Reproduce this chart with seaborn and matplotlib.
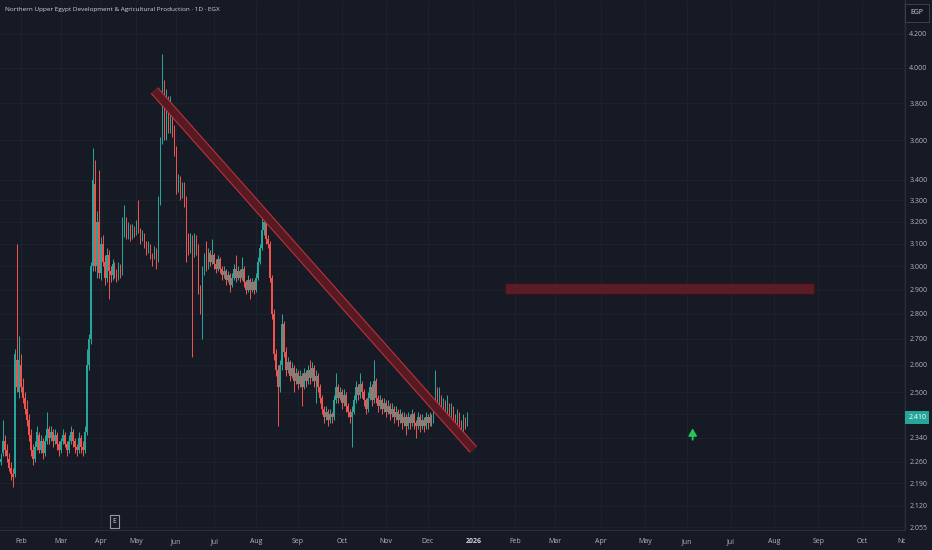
import matplotlib
matplotlib.use('Agg')
import matplotlib.pyplot as plt
import matplotlib.transforms as mtransforms
from matplotlib.patches import Rectangle
import numpy as np
import pandas as pd
import seaborn as sns

title = 'Northern Upper Egypt Development & Agricultural Production · 1D · EGX'
first_day = '2025-01-16'
future_end = '2026-11-30'
holidays = ['2025-03-30', '2025-03-31', '2025-04-01', '2025-04-02', '2025-04-03',
            '2025-04-21', '2025-05-01', '2025-06-05', '2025-06-08',
            '2025-06-09', '2025-07-03', '2025-07-24']

# daily candles
opens = [2.28, 2.26, 2.29, 2.33, 2.30, 2.27, 2.24, 2.22, 2.22, 2.62,
         2.50, 2.60, 2.52, 2.48, 2.44, 2.40, 2.35, 2.30, 2.27, 2.31,
         2.35, 2.30, 2.33, 2.29, 2.33, 2.37, 2.34, 2.36, 2.33, 2.35,
         2.32, 2.30, 2.33, 2.35, 2.32, 2.30, 2.33, 2.36, 2.33, 2.31,
         2.30, 2.34, 2.31, 2.30, 2.36, 2.60, 2.70, 3.00, 3.38, 3.00,
         3.20, 2.97, 3.10, 3.02, 2.95, 3.05, 2.98, 2.96, 3.01, 2.97,
         2.96, 3.00, 2.97, 3.15, 3.20, 3.14, 3.18, 3.13, 3.17, 3.15,
         3.19, 3.16, 3.12, 3.14, 3.10, 3.07, 3.09, 3.05, 3.04, 3.07,
         3.03, 3.30, 3.60, 3.82, 3.62, 3.80, 3.66, 3.74, 3.65, 3.55,
         3.36, 3.40, 3.33, 3.37, 3.30, 3.12, 3.08, 3.12, 3.06, 3.12,
         3.08, 2.90, 2.86, 2.98, 3.03, 3.00, 3.06, 3.02, 3.05, 3.01,
         2.99, 3.03, 2.99, 2.96, 2.98, 2.94, 2.96, 2.92, 2.95, 2.99,
         2.95, 2.98, 2.95, 2.99, 2.93, 2.90, 2.94, 2.90, 2.93, 2.90,
         2.95, 3.02, 3.08, 3.16, 3.20, 3.12, 3.10, 2.95, 2.80, 2.64,
         2.58, 2.52, 2.60, 2.76, 2.65, 2.58, 2.61, 2.56, 2.59, 2.54,
         2.57, 2.53, 2.56, 2.52, 2.57, 2.54, 2.58, 2.55, 2.59, 2.54,
         2.56, 2.52, 2.48, 2.44, 2.41, 2.43, 2.40, 2.42, 2.41, 2.47,
         2.52, 2.48, 2.50, 2.46, 2.49, 2.45, 2.43, 2.41, 2.43, 2.47,
         2.52, 2.49, 2.53, 2.50, 2.47, 2.44, 2.48, 2.52, 2.47, 2.54,
         2.48, 2.45, 2.47, 2.44, 2.46, 2.43, 2.45, 2.42, 2.44, 2.41,
         2.43, 2.40, 2.42, 2.39, 2.41, 2.38, 2.41, 2.39, 2.42, 2.39,
         2.38, 2.41, 2.38, 2.40, 2.38, 2.41, 2.39, 2.41, 2.40, 2.44,
         2.51, 2.46, 2.48, 2.44, 2.46, 2.43, 2.45, 2.42, 2.44, 2.41,
         2.38, 2.42, 2.39, 2.37, 2.40, 2.39]
highs = [2.30, 2.29, 2.40, 2.35, 2.32, 2.29, 2.26, 2.24, 2.66, 3.10,
         2.71, 2.64, 2.55, 2.50, 2.47, 2.42, 2.37, 2.32, 2.33, 2.38,
         2.36, 2.35, 2.34, 2.35, 2.43, 2.38, 2.38, 2.37, 2.37, 2.36,
         2.33, 2.34, 2.37, 2.36, 2.33, 2.35, 2.38, 2.37, 2.34, 2.32,
         2.36, 2.35, 2.33, 2.38, 2.66, 2.72, 3.02, 3.56, 3.50, 3.25,
         3.45, 3.13, 3.14, 3.05, 3.08, 3.07, 3.00, 3.03, 3.02, 2.99,
         3.02, 3.01, 3.22, 3.28, 3.22, 3.20, 3.19, 3.19, 3.18, 3.21,
         3.30, 3.17, 3.16, 3.15, 3.11, 3.11, 3.10, 3.06, 3.09, 3.08,
         3.32, 3.62, 4.08, 3.93, 3.88, 3.84, 3.84, 3.78, 3.68, 3.57,
         3.43, 3.42, 3.39, 3.39, 3.32, 3.15, 3.15, 3.14, 3.15, 3.14,
         3.10, 2.92, 3.00, 3.06, 3.11, 3.08, 3.07, 3.12, 3.06, 3.03,
         3.05, 3.04, 3.00, 3.00, 2.99, 2.98, 2.97, 2.97, 3.01, 3.05,
         3.00, 2.99, 3.04, 3.00, 2.94, 2.96, 2.95, 2.95, 2.94, 2.97,
         3.04, 3.10, 3.23, 3.24, 3.21, 3.14, 3.11, 2.96, 2.82, 2.66,
         2.60, 2.62, 2.80, 2.77, 2.67, 2.63, 2.62, 2.61, 2.60, 2.59,
         2.58, 2.58, 2.57, 2.59, 2.58, 2.60, 2.62, 2.61, 2.60, 2.58,
         2.57, 2.53, 2.49, 2.45, 2.45, 2.44, 2.44, 2.43, 2.49, 2.57,
         2.53, 2.52, 2.51, 2.51, 2.50, 2.46, 2.44, 2.45, 2.49, 2.54,
         2.53, 2.57, 2.54, 2.51, 2.48, 2.50, 2.54, 2.53, 2.62, 2.55,
         2.49, 2.49, 2.48, 2.48, 2.47, 2.47, 2.46, 2.46, 2.45, 2.45,
         2.44, 2.44, 2.43, 2.43, 2.42, 2.43, 2.42, 2.44, 2.43, 2.40,
         2.43, 2.42, 2.42, 2.41, 2.43, 2.42, 2.43, 2.42, 2.46, 2.58,
         2.52, 2.52, 2.49, 2.48, 2.47, 2.49, 2.46, 2.46, 2.45, 2.42,
         2.44, 2.43, 2.40, 2.42, 2.41, 2.43]
lows = [2.24, 2.25, 2.28, 2.28, 2.26, 2.23, 2.20, 2.18, 2.21, 2.50,
        2.48, 2.50, 2.46, 2.42, 2.38, 2.33, 2.28, 2.25, 2.26, 2.30,
        2.29, 2.29, 2.27, 2.28, 2.32, 2.32, 2.33, 2.31, 2.32, 2.30,
        2.28, 2.29, 2.32, 2.31, 2.28, 2.29, 2.32, 2.31, 2.29, 2.28,
        2.29, 2.29, 2.28, 2.29, 2.35, 2.58, 2.68, 2.98, 2.98, 2.95,
        2.95, 2.94, 3.00, 2.92, 2.93, 2.86, 2.93, 2.94, 2.95, 2.93,
        2.94, 2.95, 2.96, 3.13, 3.12, 3.12, 3.11, 3.12, 3.13, 3.14,
        3.15, 3.10, 3.11, 3.08, 3.05, 3.06, 3.03, 3.00, 3.03, 2.99,
        3.02, 3.28, 3.58, 3.60, 3.60, 3.64, 3.64, 3.62, 3.52, 3.33,
        3.34, 3.30, 3.31, 3.27, 3.02, 3.05, 3.06, 2.63, 3.04, 3.05,
        2.88, 2.80, 2.70, 2.96, 2.98, 2.99, 3.00, 3.01, 2.99, 2.97,
        2.98, 2.97, 2.94, 2.95, 2.92, 2.93, 2.89, 2.91, 2.94, 2.93,
        2.94, 2.93, 2.94, 2.91, 2.88, 2.89, 2.86, 2.89, 2.88, 2.89,
        2.94, 3.01, 3.07, 3.14, 3.10, 3.08, 2.93, 2.78, 2.62, 2.56,
        2.38, 2.50, 2.58, 2.63, 2.56, 2.57, 2.54, 2.55, 2.50, 2.53,
        2.51, 2.52, 2.45, 2.51, 2.52, 2.53, 2.53, 2.54, 2.52, 2.46,
        2.50, 2.46, 2.42, 2.39, 2.40, 2.38, 2.39, 2.39, 2.40, 2.46,
        2.46, 2.47, 2.44, 2.45, 2.43, 2.41, 2.39, 2.31, 2.42, 2.46,
        2.47, 2.48, 2.48, 2.45, 2.42, 2.43, 2.47, 2.45, 2.46, 2.46,
        2.43, 2.44, 2.42, 2.43, 2.41, 2.42, 2.40, 2.41, 2.39, 2.40,
        2.38, 2.39, 2.37, 2.38, 2.35, 2.37, 2.37, 2.38, 2.37, 2.34,
        2.37, 2.36, 2.37, 2.36, 2.37, 2.37, 2.38, 2.38, 2.39, 2.43,
        2.44, 2.45, 2.42, 2.43, 2.41, 2.42, 2.40, 2.41, 2.39, 2.36,
        2.37, 2.38, 2.35, 2.36, 2.37, 2.38]
closes = [2.26, 2.27, 2.33, 2.30, 2.28, 2.24, 2.22, 2.21, 2.64, 2.52,
          2.62, 2.52, 2.48, 2.44, 2.40, 2.35, 2.30, 2.27, 2.31, 2.36,
          2.30, 2.33, 2.29, 2.33, 2.37, 2.34, 2.36, 2.33, 2.35, 2.32,
          2.30, 2.33, 2.35, 2.32, 2.30, 2.33, 2.36, 2.33, 2.31, 2.30,
          2.34, 2.31, 2.30, 2.36, 2.60, 2.70, 3.00, 3.40, 3.00, 3.20,
          2.97, 3.10, 3.02, 2.95, 3.05, 2.98, 2.96, 3.01, 2.97, 2.96,
          3.00, 2.97, 3.15, 3.20, 3.14, 3.18, 3.13, 3.17, 3.15, 3.19,
          3.16, 3.12, 3.14, 3.10, 3.07, 3.09, 3.05, 3.04, 3.07, 3.03,
          3.30, 3.60, 3.80, 3.62, 3.80, 3.66, 3.74, 3.65, 3.55, 3.36,
          3.40, 3.33, 3.37, 3.30, 3.12, 3.08, 3.12, 3.06, 3.12, 3.08,
          2.90, 2.86, 2.98, 3.03, 3.00, 3.06, 3.02, 3.05, 3.01, 2.99,
          3.03, 2.99, 2.96, 2.98, 2.94, 2.96, 2.92, 2.95, 2.99, 2.95,
          2.98, 2.95, 2.99, 2.93, 2.90, 2.94, 2.90, 2.93, 2.90, 2.95,
          3.02, 3.08, 3.16, 3.20, 3.12, 3.10, 2.95, 2.80, 2.64, 2.58,
          2.52, 2.60, 2.76, 2.65, 2.58, 2.61, 2.56, 2.59, 2.54, 2.57,
          2.53, 2.56, 2.52, 2.57, 2.54, 2.58, 2.55, 2.59, 2.54, 2.56,
          2.52, 2.48, 2.44, 2.41, 2.43, 2.40, 2.42, 2.41, 2.47, 2.52,
          2.48, 2.50, 2.46, 2.49, 2.45, 2.43, 2.41, 2.43, 2.47, 2.52,
          2.49, 2.53, 2.50, 2.47, 2.44, 2.48, 2.52, 2.47, 2.54, 2.48,
          2.45, 2.47, 2.44, 2.46, 2.43, 2.45, 2.42, 2.44, 2.41, 2.43,
          2.40, 2.42, 2.39, 2.41, 2.38, 2.41, 2.39, 2.42, 2.39, 2.38,
          2.41, 2.38, 2.40, 2.38, 2.41, 2.39, 2.41, 2.40, 2.44, 2.51,
          2.46, 2.48, 2.44, 2.46, 2.43, 2.45, 2.42, 2.44, 2.41, 2.38,
          2.42, 2.39, 2.37, 2.40, 2.39, 2.41]

price_ticks = [2.055, 2.12, 2.19, 2.26, 2.34, 2.42, 2.5, 2.6, 2.7, 2.8, 2.9,
               3.0, 3.1, 3.2, 3.3, 3.4, 3.6, 3.8, 4.0, 4.2]
hidden_tick = 2.42
last_price = 2.41
currency = 'EGP'

trend_start = ('2025-05-15', 3.87)
trend_end = ('2026-01-01', 2.30)
zone_start, zone_end = '2026-01-25', '2026-08-30'
zone_low, zone_high = 2.88, 2.926
arrow_date = '2026-06-04'
arrow_base, arrow_tip = 2.333, 2.372
earnings_date = '2025-04-15'

bg = '#161a25'
grid_c = '#1f2330'
text_c = '#b2b5be'
up_c = '#26a69a'
down_c = '#ef5350'

sns.set_theme(style='dark', rc={'axes.facecolor': bg, 'figure.facecolor': bg,
                                'grid.color': grid_c, 'axes.edgecolor': '#2a2e39'})
plt.rcParams['font.family'] = ['Open Sans', 'DejaVu Sans']

past = pd.bdate_range(first_day, periods=len(closes), freq='C',
                      weekmask='Sun Mon Tue Wed Thu', holidays=holidays)
future = pd.bdate_range(past[-1] + pd.Timedelta(days=1), future_end, freq='C',
                        weekmask='Sun Mon Tue Wed Thu')
dates = past.append(future)
bar_no = pd.Series(np.arange(len(dates)), index=dates)


def bar_of(d):
    return bar_no[pd.Timestamp(d)]


df = pd.DataFrame({'o': opens, 'h': highs, 'l': lows, 'c': closes}, index=past)
df['x'] = np.arange(len(df))
df['color'] = np.where(df['c'] >= df['o'], up_c, down_c)
df['body_lo'] = df[['o', 'c']].min(axis=1)
df['body_h'] = (df['c'] - df['o']).abs().clip(lower=0.004)

fig = plt.figure(figsize=(9.32, 5.5), dpi=100)
ax = fig.add_axes([0, 20 / 550, 905 / 932, 530 / 550])
ax.set_facecolor(bg)
ax.set_yscale('log')

# candles, snapped to whole pixels so neighbours don't blend
ax.vlines(df['x'], df['l'], df['h'], colors=df['color'], linewidth=0.72,
          zorder=2, snap=True)
bars = ax.bar(df['x'], df['body_h'], bottom=df['body_lo'], width=0.7,
              color=df['color'], linewidth=0, zorder=3)
for b in bars:
    b.set_snap(True)

# falling trend line band: red outline, dark fill
tx = [bar_of(trend_start[0]), bar_of(trend_end[0])]
ty = [trend_start[1], trend_end[1]]
ax.plot(tx, ty, color='#c0303a', lw=7.0, solid_capstyle='butt', zorder=4)
ax.plot(tx, ty, color='#4e1820', lw=5.4, alpha=0.92, solid_capstyle='butt', zorder=4)

# target zone
x0, x1 = bar_of(zone_start), bar_of(zone_end)
ax.add_patch(Rectangle((x0, zone_low), x1 - x0, zone_high - zone_low,
                       facecolor='#5a1c26', edgecolor='#3a1118', lw=0.8, zorder=4))

# small up arrow
xa = bar_of(arrow_date)
ax.annotate('', xy=(xa, arrow_tip), xytext=(xa, arrow_base),
            arrowprops=dict(arrowstyle='-|>,head_width=0.2,head_length=0.35',
                            color='#22c55e', lw=1.3, shrinkA=0, shrinkB=0), zorder=5)

# axes limits
xlim = (0.57, 454.5)
ax.set_xlim(*xlim)
ax.set_ylim(2.047, 4.412)

# month ticks on the time axis
month_first = bar_no.groupby(dates.to_period('M')).first()
month_first = month_first[month_first > xlim[0]]
tick_lab = ['2026' if (p.year == 2026 and p.month == 1) else p.strftime('%b')
            for p in month_first.index]
ax.set_xticks(month_first.values, tick_lab)
ax.tick_params(axis='x', length=0, pad=6, labelsize=5, labelcolor=text_c)
clip = mtransforms.TransformedBbox(mtransforms.Bbox([[0, -0.2], [1, 0.01]]), ax.transAxes)
for lab in ax.get_xticklabels():
    lab.set_clip_box(clip)
    lab.set_clip_on(True)
    if lab.get_text() == '2026':
        lab.set_fontweight('bold')
        lab.set_color('#d1d4dc')

# price axis on the right
ax.set_yticks(price_ticks, ['' if t == hidden_tick else f'{t:.3f}' for t in price_ticks])
ax.yaxis.set_minor_locator(matplotlib.ticker.NullLocator())
ax.yaxis.tick_right()
ax.tick_params(axis='y', length=0, pad=3, labelsize=5, labelcolor=text_c)
ax.grid(True, color=grid_c, lw=0.6)
ax.set_axisbelow(True)

for side in ['top', 'left']:
    ax.spines[side].set_visible(False)
ax.spines['right'].set_color('#2a2e39')
ax.spines['bottom'].set_color('#2a2e39')
ax.spines['right'].set_linewidth(0.8)
ax.spines['bottom'].set_linewidth(0.8)

blend = mtransforms.blended_transform_factory(ax.transAxes, ax.transData)
ax.text(1.0035, last_price, f'{last_price:.3f}', transform=blend, ha='left', va='center',
        fontsize=5, color='white', clip_on=False, zorder=6,
        bbox=dict(boxstyle='square,pad=0.4', fc=up_c, ec='none'))

fig.text(917 / 932, 1 - 13 / 550, currency, ha='center', va='center', fontsize=5,
         color='#d1d4dc', bbox=dict(boxstyle='square,pad=0.8', fc='#131722', ec='#434651', lw=0.6))

# earnings marker
blend_x = mtransforms.blended_transform_factory(ax.transData, ax.transAxes)
ax.text(bar_of(earnings_date), 0.016, 'E', transform=blend_x, ha='center', va='center',
        fontsize=5, color='#d1d4dc', zorder=6,
        bbox=dict(boxstyle='square,pad=0.4', fc=bg, ec='#9598a1', lw=0.8))

fig.text(5 / 932, 1 - 10 / 550, title, ha='left', va='center', fontsize=4.6,
         color='#d1d4dc')

fig.savefig('out.png', dpi=100, facecolor=bg)
